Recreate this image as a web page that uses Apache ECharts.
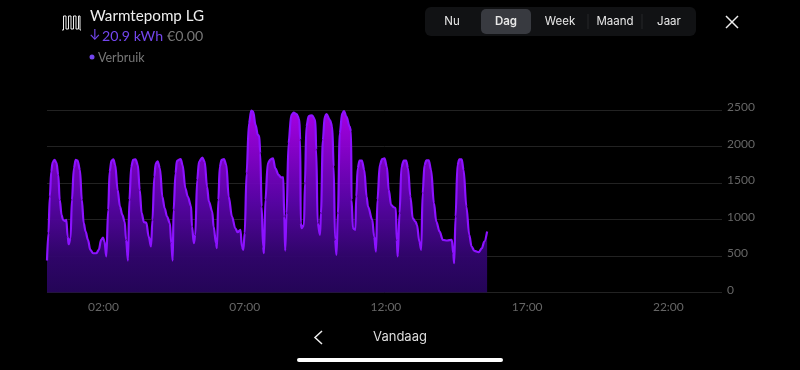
<!DOCTYPE html>
<html><head><meta charset="utf-8">
<style>html,body{margin:0;padding:0;background:#000}#c{width:800px;height:370px}</style>
<script src="https://cdn.jsdelivr.net/npm/echarts@6/dist/echarts.min.js"></script>
</head><body><div id="c"></div>
<script>
// minutes after midnight
const minutes = [0,3,6,9,12,16,20,24,27,31,34,39,41,44,46,50,53,57,61,65,70,74,78,82,87,92,98,105,110,115,119,122,126,130,133,137,141,145,150,155,160,165,168,172,175,179,183,188,193,197,201,206,211,216,221,224,228,231,235,240,245,250,255,261,264,267,269,273,276,284,288,294,299,306,308,312,315,319,323,330,335,340,344,351,354,359,361,364,367,371,376,381,386,393,400,405,411,414,417,420,424,429,434,438,443,448,451,453,456,459,461,464,469,475,480,485,492,497,502,504,506,509,513,519,524,530,536,538,539,541,546,548,551,556,563,570,572,575,580,582,586,590,594,601,606,609,612,615,618,622,627,631,636,643,646,647,650,655,657,660,664,669,674,679,682,691,695,699,702,707,712,717,722,726,731,737,741,743,745,749,753,758,763,767,772,777,783,786,791,795,798,802,806,811,816,822,827,834,841,850,860,863,865,868,872,876,881,885,891,897,902,908,917,924,929,935];
// watts
const watts = [438,812,1314,1656,1784,1816,1779,1610,1268,1063,995,976,995,766,661,744,1268,1702,1816,1807,1679,1268,949,835,721,584,538,538,584,721,753,698,493,1131,1656,1807,1825,1747,1405,1177,1063,972,721,438,1268,1724,1816,1825,1747,1405,1086,963,958,766,630,995,1588,1770,1797,1702,1314,1154,1040,949,675,438,1131,1633,1802,1829,1747,1428,1314,1186,903,675,789,1542,1793,1848,1793,1451,1245,1109,903,675,607,1268,1724,1816,1829,1747,1314,1040,880,826,858,630,584,812,1633,2317,2491,2477,2295,2158,2144,1907,1177,630,538,1268,1770,1825,1838,1702,1610,1578,1578,1040,575,1086,2044,2432,2463,2445,2372,2089,949,880,926,1496,2272,2418,2427,2363,1953,949,789,1086,2089,2409,2445,2363,2272,1724,721,516,1086,2181,2454,2486,2409,2272,2203,1268,880,858,1314,1702,1807,1807,1679,1314,1177,995,766,561,1268,1747,1829,1838,1724,1405,1200,1168,1154,721,493,1086,1724,1807,1807,1702,1314,1017,967,926,698,584,1359,1747,1811,1811,1679,1223,972,835,721,712,721,538,401,1040,1747,1825,1825,1679,1177,789,630,570,552,607,698,835];
const yTicks = [0,500,1000,1500,2000,2500];
const xTickMinutes = [120,420,720,1020,1320];
const xTickLabels = ['02:00','07:00','12:00','17:00','22:00'];
const tabs = ['Nu','Dag','Week','Maand','Jaar'];
const tabCenters = [452,506,560,615,669];

const F = 'Inter, "Noto Sans", sans-serif';
const L = 'Lato, "Noto Sans", sans-serif';
const txt = (x,y,text,size,fill,align,weight,font)=>({type:'text',silent:true,style:{x,y,text,fontSize:size,fill,fontFamily:font||F,align:align||'left',verticalAlign:'middle',fontWeight:weight||400}});
const ln = (x1,y1,x2,y2,stroke,w)=>({type:'line',silent:true,shape:{x1,y1,x2,y2},style:{stroke,lineWidth:w||1}});

const chart = echarts.init(document.getElementById('c'),null,{renderer:'canvas'});
chart.setOption({
  backgroundColor:'#000',
  animation:false,
  grid:{left:47,right:78,top:110,bottom:77.5},
  xAxis:{type:'value',min:0,max:1434,
    axisLine:{show:false},axisTick:{show:false},splitLine:{show:false},
    axisLabel:{customValues:xTickMinutes,color:'#666',fontSize:12,fontFamily:L,margin:9,
      formatter:v=>xTickLabels[xTickMinutes.indexOf(v)]||''}},
  yAxis:{type:'value',position:'right',min:0,max:2500,interval:500,
    axisLine:{show:false},axisTick:{show:false},
    splitLine:{lineStyle:{color:'#222',width:1}},
    axisLabel:{customValues:yTicks,color:'#666',fontSize:12,fontFamily:L,margin:5,verticalAlign:'bottom',lineHeight:5,formatter:v=>String(v)}},
  series:[{type:'line',data:minutes.map((m,i)=>[m,watts[i]]),smooth:0.35,smoothMonotone:'x',
    showSymbol:false,lineStyle:{color:'#8c12ff',width:2.2},
    areaStyle:{opacity:0.94,color:new echarts.graphic.LinearGradient(0,0,0,1,[
      {offset:0,color:'#b000f0'},{offset:0.5,color:'#5c04ac'},{offset:0.8,color:'#32056f'},{offset:1,color:'#26055c'}])}}],
  graphic:[
    {type:'polyline',silent:true,shape:{points:[[62,30],[63.5,30],[63.5,16],[66,16],[66,29],[68.5,29],[68.5,16],[71,16],[71,29],[73.5,29],[73.5,16],[76,16],[76,29],[78.5,29],[78.5,16],[80,16],[80,30],[81,30]]},style:{stroke:'#eee',fill:null,lineWidth:1}},
    txt(90,16,'Warmtepomp LG',15.2,'#eee','left',400,L),
    txt(89,36,'↓',14,'#7446ee'),
    txt(102,36,'20.9 kWh',14.2,'#7446ee','left',400,L),
    txt(167,36,'€0.00',14.2,'#777','left',400,L),
    {type:'circle',silent:true,shape:{cx:92,cy:57,r:2.5},style:{fill:'#7446ee'}},
    txt(98,58,'Verbruik',12.5,'#777','left',400,L),
    {type:'rect',silent:true,shape:{x:425,y:7,width:271,height:29,r:6},style:{fill:'#111214'}},
    {type:'rect',silent:true,shape:{x:481,y:9,width:50,height:25,r:5},style:{fill:'#383a40'}},
    ln(588,14,588,29,'#262729'),ln(642,14,642,29,'#262729'),
    ...tabs.map((t,i)=>txt(tabCenters[i],21.5,t,11.5,'#e8e8e8','center',i===1?600:400)),
    ln(726,16,738,28,'#eee',1.5),ln(738,16,726,28,'#eee',1.5),
    {type:'polyline',silent:true,shape:{points:[[322,331],[315,337.5],[322,344]]},style:{stroke:'#eee',fill:null,lineWidth:1.5}},
    txt(400,337,'Vandaag',13,'#ddd','center'),
    {type:'rect',silent:true,shape:{x:297,y:358,width:206,height:4,r:2},style:{fill:'#fff'}}
  ]
});
</script></body></html>
